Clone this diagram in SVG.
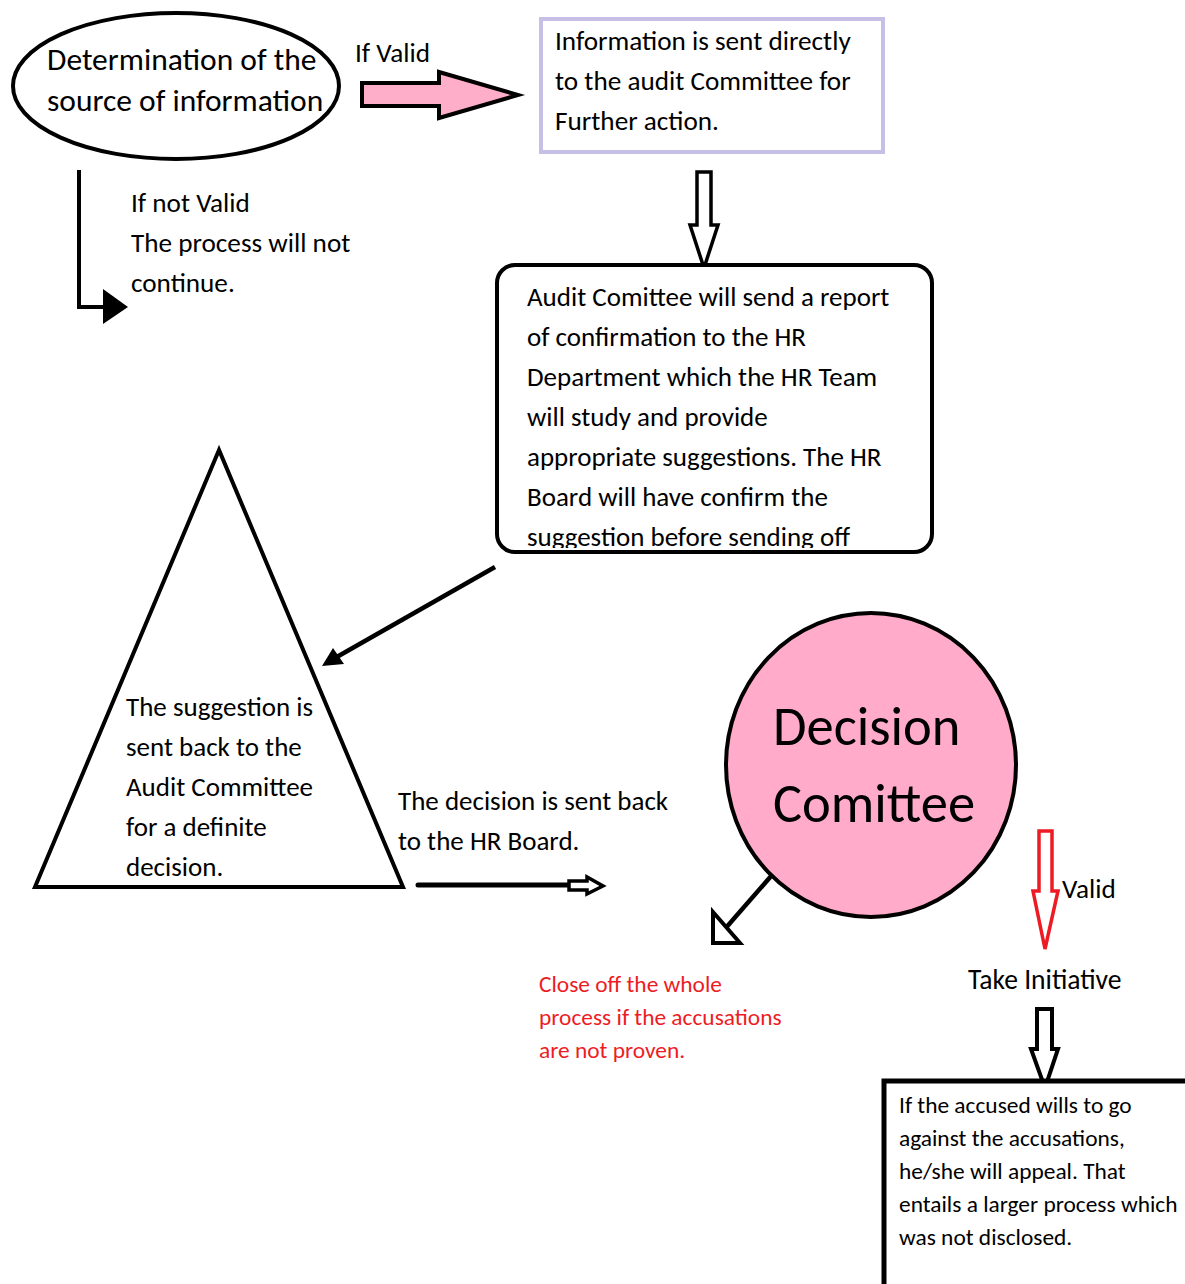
<svg xmlns="http://www.w3.org/2000/svg" width="1185" height="1284" viewBox="0 0 1185 1284">
<style>
text{font-family:Carlito,Lato,"Open Sans",sans-serif;fill:#000}
.t26{font-size:27.2px}
.t27{font-size:27px}
.t22{font-size:23.4px}
.red{fill:#ED1C24}
.shape{fill:#fff;stroke:#000;stroke-width:4}
</style>
<defs>
<clipPath id="auditClip"><rect x="497" y="265" width="435" height="283"/></clipPath>
</defs>
<rect width="1185" height="1284" fill="#fff"/>

<g id="connectors">
<polygon points="362,83 439,83 439,72 518,95 439,118 439,106 362,106" fill="#FFAEC9" stroke="#000" stroke-width="4" stroke-linejoin="miter"/>
<polyline points="79,170 79,307 106,307" fill="none" stroke="#000" stroke-width="4"/>
<polygon points="103,289 128,307 103,324" fill="#000"/>
<polygon points="697,172 711,172 711,225 718,225 704,268 690,225 697,225" fill="#fff" stroke="#000" stroke-width="3.5"/>
<line x1="495" y1="567" x2="335" y2="658" stroke="#000" stroke-width="4.5"/>
<polygon points="322,666 333,648 344,664" fill="#000"/>
<line x1="418" y1="885" x2="570" y2="885" stroke="#000" stroke-width="5" stroke-linecap="round"/>
<polygon points="569,881 587,881 587,877 603,886 587,894 587,890 569,890" fill="#fff" stroke="#000" stroke-width="3.5"/>
<line x1="772" y1="875" x2="724" y2="930" stroke="#000" stroke-width="4.5"/>
<polygon points="713,912 713,943 740,943" fill="#fff" stroke="#000" stroke-width="4" stroke-linejoin="miter"/>
<polygon points="1039,831 1052,831 1052,891 1058,891 1045,949 1033,891 1039,891" fill="#fff" stroke="#ED1C24" stroke-width="3.5"/>
<polygon points="1037,1009 1052,1009 1052,1049 1058,1049 1045,1088 1031,1049 1037,1049" fill="#fff" stroke="#000" stroke-width="4"/>
</g>

<g id="node-source">
<ellipse cx="176" cy="86" rx="163" ry="73" class="shape"/>
<text x="47" y="70" style="font-size:31.5px">Determination of the</text>
<text x="47" y="111" style="font-size:31.5px">source of information</text>
</g>

<g id="label-ifvalid">
<text x="355" y="62" class="t26">If Valid</text>
</g>

<g id="node-info">
<rect x="541" y="19" width="342" height="133" fill="#fff" stroke="#C8BFE7" stroke-width="4"/>
<text x="555" y="50" class="t26">Information is sent directly</text>
<text x="555" y="90" class="t26">to the audit Committee for</text>
<text x="555" y="130" class="t26">Further action.</text>
</g>

<g id="label-notvalid">
<text x="131" y="212" class="t26">If not Valid</text>
<text x="131" y="252" class="t26">The process will not</text>
<text x="131" y="292" class="t26">continue.</text>
</g>

<g id="node-audit">
<rect x="497" y="265" width="435" height="287" rx="18" ry="18" class="shape"/>
<g clip-path="url(#auditClip)">
<text x="527" y="306" class="t27">Audit Comittee will send a report</text>
<text x="527" y="346" class="t27">of confirmation to the HR</text>
<text x="527" y="386" class="t27">Department which the HR Team</text>
<text x="527" y="426" class="t27">will study and provide</text>
<text x="527" y="466" class="t27">appropriate suggestions. The HR</text>
<text x="527" y="506" class="t27">Board will have confirm the</text>
<text x="527" y="546" class="t27">suggestion before sending off</text>
</g>
</g>

<g id="node-suggestion">
<polygon points="219,450 35,887 403,887" class="shape" stroke-linejoin="miter"/>
<text x="126" y="716" class="t27">The suggestion is</text>
<text x="126" y="756" class="t27">sent back to the</text>
<text x="126" y="796" class="t27">Audit Committee</text>
<text x="126" y="836" class="t27">for a definite</text>
<text x="126" y="876" class="t27">decision.</text>
</g>

<g id="label-decisionback">
<text x="398" y="810" class="t27">The decision is sent back</text>
<text x="398" y="850" class="t27">to the HR Board.</text>
</g>

<g id="node-decision">
<ellipse cx="871" cy="765" rx="145" ry="152" fill="#FFABC9" stroke="#000" stroke-width="4"/>
<text x="773" y="745" style="font-size:54.5px">Decision</text>
<text x="773" y="822" style="font-size:54.5px">Comittee</text>
</g>

<g id="node-closeoff">
<text x="539" y="992" class="t22 red">Close off the whole</text>
<text x="539" y="1025" class="t22 red">process if the accusations</text>
<text x="539" y="1058" class="t22 red">are not proven.</text>
</g>

<g id="label-valid">
<text x="1062" y="898" class="t26">Valid</text>
</g>

<g id="node-initiative">
<text x="968" y="989" style="font-size:27.6px">Take Initiative</text>
</g>

<g id="node-appeal">
<rect x="884" y="1081" width="310" height="220" fill="#fff" stroke="#000" stroke-width="5"/>
<text x="899" y="1113" class="t22">If the accused wills to go</text>
<text x="899" y="1146" class="t22">against the accusations,</text>
<text x="899" y="1179" class="t22">he/she will appeal. That</text>
<text x="899" y="1212" class="t22">entails a larger process which</text>
<text x="899" y="1245" class="t22">was not disclosed.</text>
</g>
</svg>
